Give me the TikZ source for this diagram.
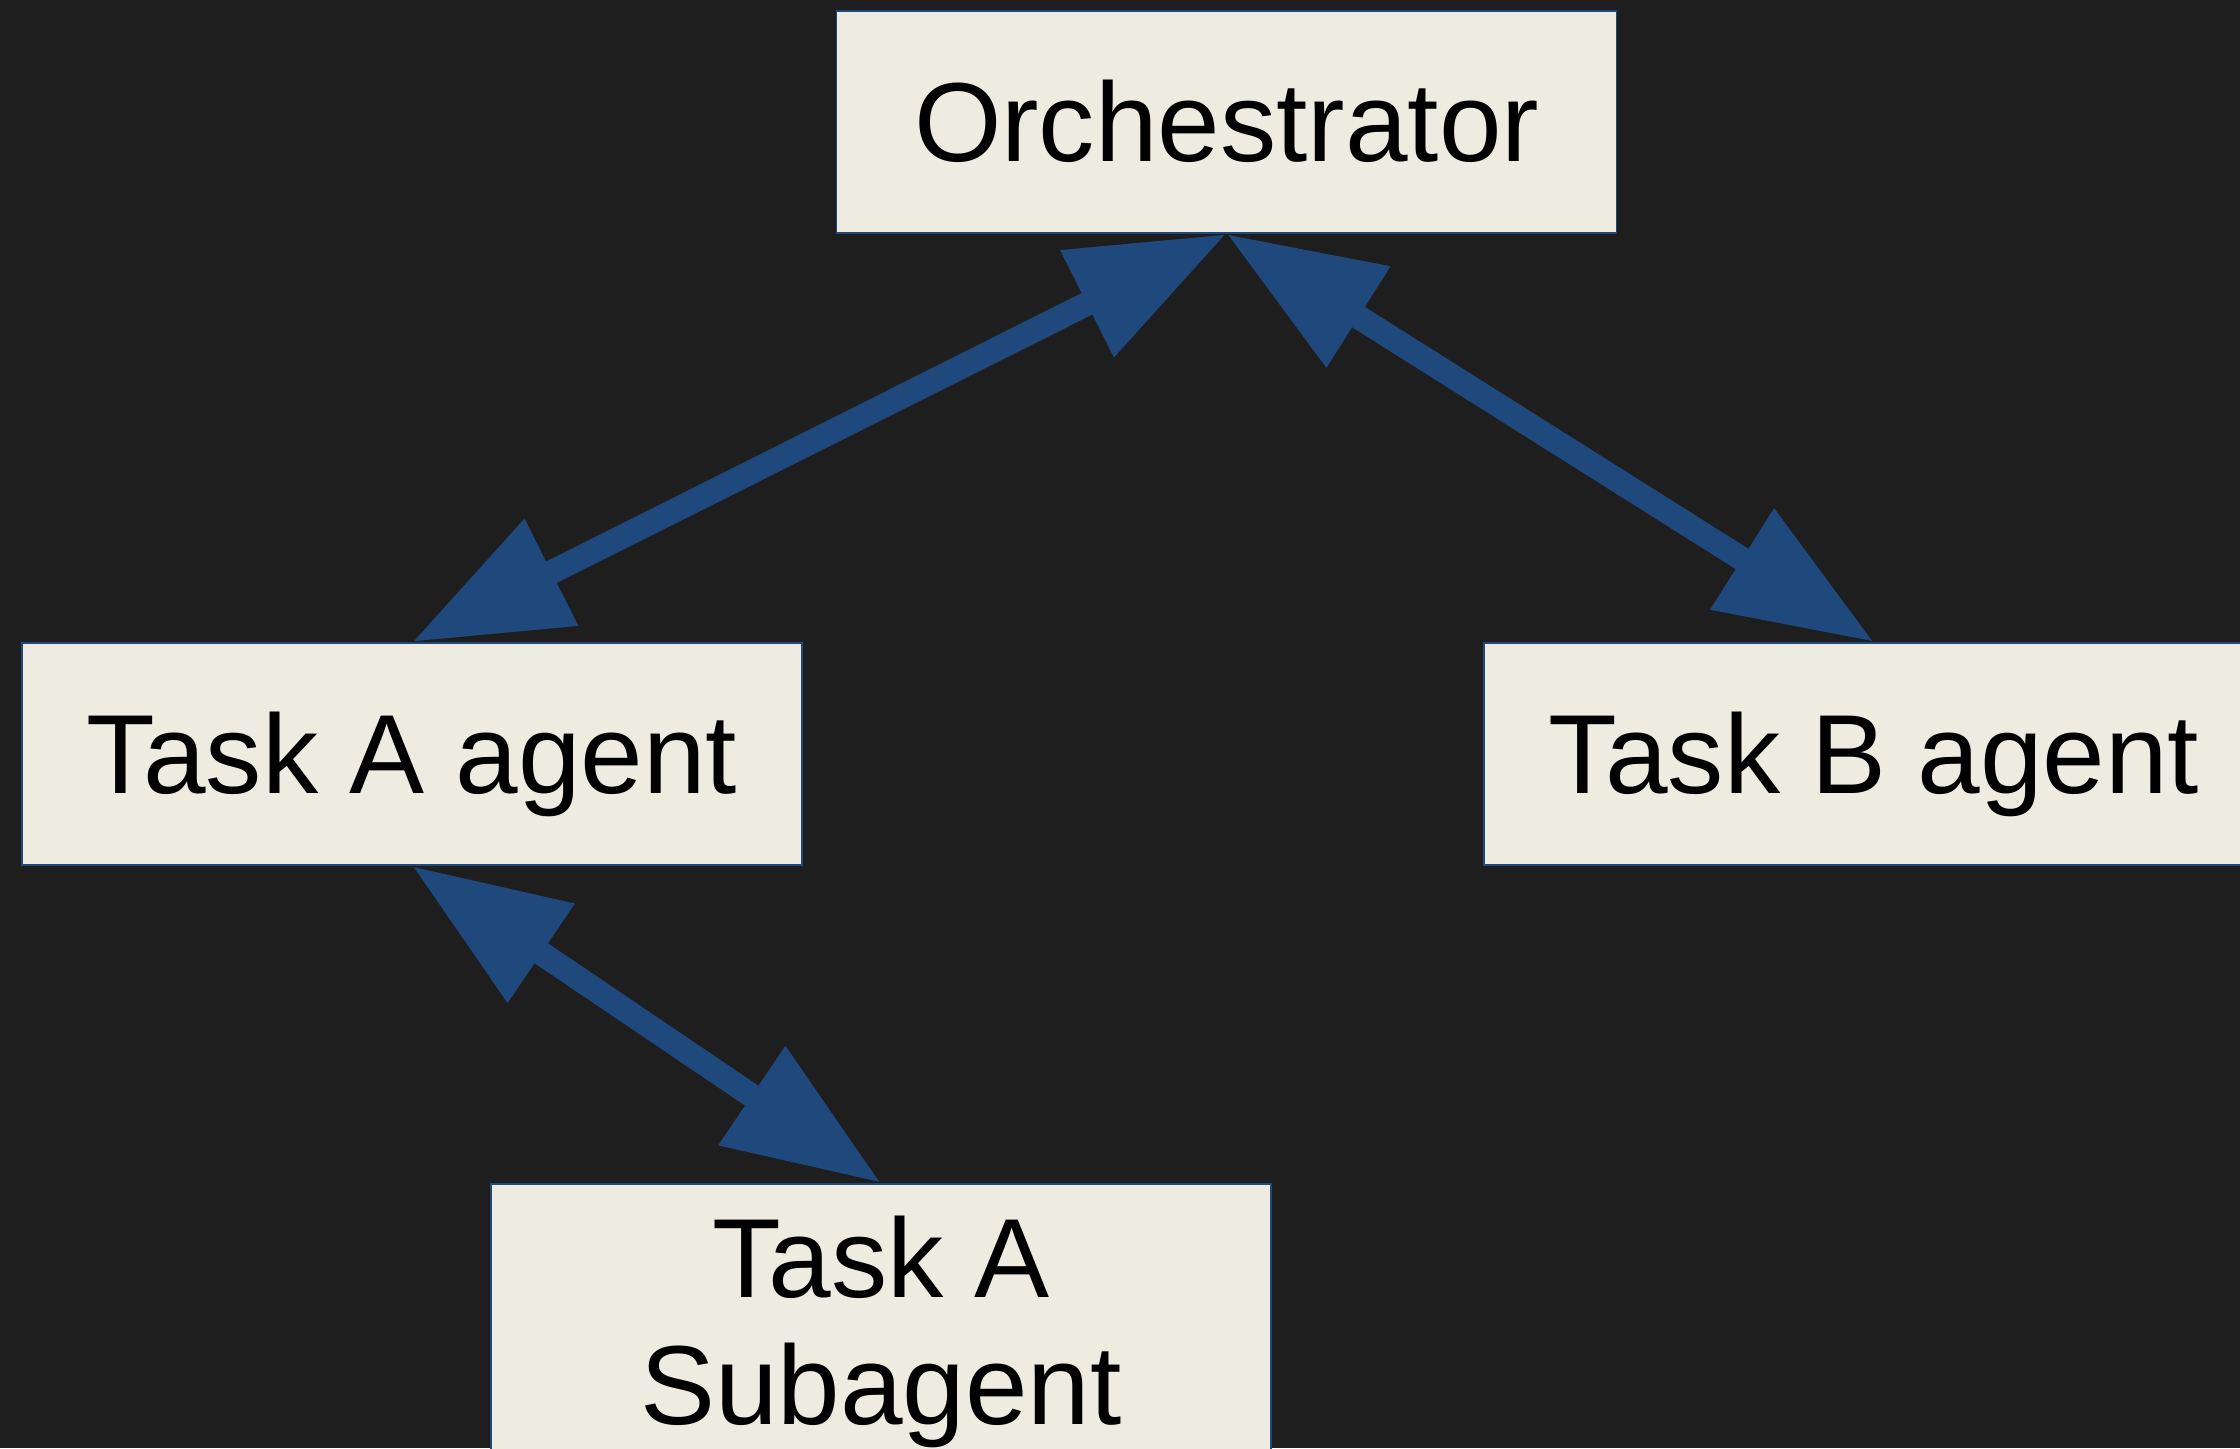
\documentclass[tikz,border=0pt]{standalone}
\usepackage{fontspec}
\setmainfont{Liberation Sans}
\usetikzlibrary{arrows.meta}
\definecolor{bgdark}{HTML}{1E1E1E}
\definecolor{boxfill}{HTML}{EEECE1}
\definecolor{linkblue}{HTML}{1F497D}
\begin{document}
\begin{tikzpicture}[
    box/.style={
        draw=linkblue,
        line width=0.5pt,
        fill=boxfill,
        inner sep=0pt,
        minimum width=7.8cm,
        minimum height=2.22cm,
        align=center,
        font=\fontsize{32}{36.3}\selectfont
    },
    oneline/.style={text height=0.79cm, text depth=0pt},
    link/.style={
        {Triangle[length=1.56cm, width=1.13cm]}-{Triangle[length=1.56cm, width=1.13cm]},
        line width=0.24cm, draw=linkblue
    }
]
    \useasboundingbox (0,0) rectangle (22.4,14.48);
    \fill[bgdark] (0,0) rectangle (22.4,14.48);
    \clip (0,0) rectangle (22.4,14.48);

    \node[box, oneline] (orch) at (12.265,13.26) {Orchestrator};

    \node[box, oneline] (agentA) at (4.12,6.94) {Task A agent};

    \node[box, oneline] (agentB) at (18.74,6.94) {Task B agent};

    \node[box, anchor=north, inner ysep=0.32cm] (subA) at (8.81,2.65)
        {Task A\\Subagent};

    \draw[link] (orch.south) -- (agentA.north);
    \draw[link] (orch.south) -- (agentB.north);
    \draw[link] (agentA.south) -- (subA.north);
\end{tikzpicture}
\end{document}
